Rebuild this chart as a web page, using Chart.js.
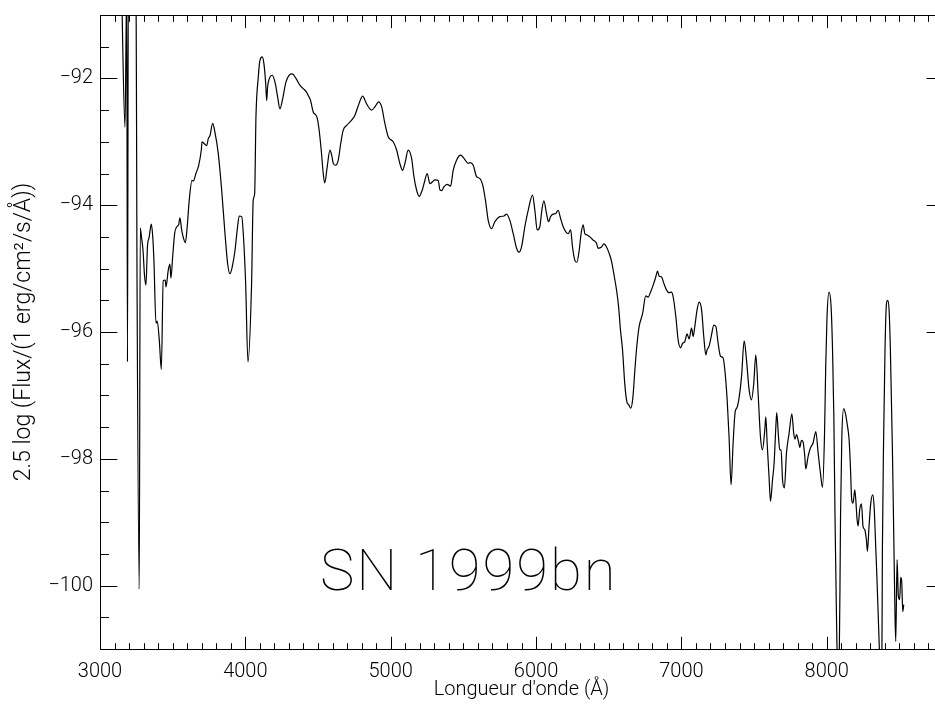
<!DOCTYPE html>
<html>
<head>
<meta charset="utf-8">
<script src="https://cdn.jsdelivr.net/npm/chart.js@4.4.1/dist/chart.umd.min.js"></script>
<style>
html,body{margin:0;padding:0;background:#fff;overflow:hidden;width:935px;height:704px}
#wrap{position:relative;width:950px;height:704px}
canvas{display:block}
</style>
</head>
<body>
<div id="wrap"><canvas id="c" width="950" height="704"></canvas></div>
<script>
// ---- data ----
const wavelength = [
3148,3172,3184,3189,3195,3248,3254,3270,3277,3285,
3296,3306,3316,3327,3337,3353,3362,3371,3385,3394,
3408,3422,3435,3449,3454,3470,3481,3488,3500,3514,
3528,3541,3550,3562,3573,3587,3600,3614,3633,3642,
3660,3679,3697,3702,3722,3734,3745,3757,3775,3791,
3814,3837,3860,3878,3894,3910,3929,3944,3958,3975,
3986,4002,4018,4043,4054,4064,4073,4089,4100,4116,
4128,4140,4147,4153,4169,4185,4204,4222,4238,4257,
4279,4302,4323,4348,4376,4398,4422,4433,4449,4467,
4486,4495,4508,4522,4536,4546,4563,4582,4594,4605,
4621,4639,4656,4673,4697,4731,4754,4777,4807,4834,
4869,4891,4917,4938,4960,4983,5017,5041,5063,5082,
5100,5120,5144,5160,5178,5196,5220,5235,5251,5270,
5288,5304,5327,5339,5352,5366,5389,5412,5430,5453,
5481,5504,5533,5545,5568,5591,5614,5636,5655,5671,
5694,5717,5751,5779,5797,5820,5843,5866,5882,5900,
5923,5946,5976,5992,6008,6026,6040,6054,6072,6086,
6100,6118,6136,6152,6169,6187,6205,6221,6238,6251,
6267,6281,6297,6310,6324,6336,6352,6370,6393,6416,
6427,6451,6467,6485,6503,6520,6535,6554,6568,6581,
6595,6611,6625,6638,6652,6666,6680,6691,6709,6733,
6755,6771,6788,6806,6824,6836,6847,6863,6879,6898,
6916,6932,6943,6962,6978,6994,7008,7024,7039,7053,
7070,7081,7092,7108,7122,7139,7154,7168,7177,7191,
7207,7223,7237,7253,7269,7287,7299,7315,7328,7342,
7356,7370,7383,7397,7414,7432,7448,7466,7482,7498,
7512,7528,7544,7558,7574,7581,7590,7603,7613,7627,
7638,7650,7656,7668,7677,7686,7696,7709,7723,7741,
7760,7773,7782,7792,7806,7815,7826,7837,7849,7856,
7872,7888,7906,7925,7941,7957,7971,7985,7993,8002,
8016,8030,8040,8049,8057,8067,8076,8085,8095,8104,
8117,8131,8140,8154,8163,8172,8181,8193,8200,8209,
8216,8227,8239,8250,8262,8273,8280,8291,8303,8317,
8326,8337,8346,8360,8370,8379,8383,8392,8401,8411,
8420,8429,8438,8452,8461,8470,8475,8484,8493,8502,
8509,8516,8523,8530
];
const flux = [
-90.5,-92.77,-90.5,-96.47,-90.5,-90.5,-94.74,-100.06,-94.36,-94.50,
-94.71,-95.10,-95.26,-94.63,-94.52,-94.30,-94.47,-94.87,-95.86,-95.83,
-96.13,-96.59,-95.19,-95.18,-95.29,-95.02,-94.93,-95.15,-94.81,-94.44,
-94.34,-94.31,-94.20,-94.39,-94.51,-94.59,-94.34,-93.92,-93.61,-93.62,
-93.50,-93.37,-93.13,-93.00,-93.04,-93.06,-92.95,-92.90,-92.71,-92.85,
-93.19,-93.76,-94.45,-94.92,-95.08,-94.97,-94.71,-94.39,-94.17,-94.18,
-94.45,-95.23,-96.47,-95.23,-93.92,-93.82,-92.61,-91.98,-91.72,-91.66,
-91.77,-92.08,-92.35,-92.14,-91.98,-91.95,-92.06,-92.29,-92.48,-92.32,
-92.06,-91.95,-91.93,-92.00,-92.11,-92.16,-92.22,-92.27,-92.35,-92.53,
-92.58,-92.63,-92.82,-93.13,-93.50,-93.65,-93.40,-93.13,-93.21,-93.34,
-93.37,-93.29,-93.03,-92.82,-92.74,-92.66,-92.58,-92.43,-92.28,-92.40,
-92.50,-92.45,-92.37,-92.45,-92.71,-92.92,-93.00,-93.13,-93.34,-93.45,
-93.32,-93.13,-93.26,-93.55,-93.76,-93.86,-93.74,-93.61,-93.50,-93.66,
-93.63,-93.60,-93.61,-93.76,-93.77,-93.71,-93.67,-93.70,-93.45,-93.29,
-93.21,-93.26,-93.34,-93.33,-93.37,-93.55,-93.58,-93.71,-93.97,-94.24,
-94.37,-94.26,-94.18,-94.17,-94.14,-94.24,-94.45,-94.68,-94.74,-94.66,
-94.34,-94.08,-93.84,-94.08,-94.39,-94.34,-94.08,-93.93,-94.13,-94.26,
-94.18,-94.14,-94.13,-94.08,-94.21,-94.34,-94.42,-94.45,-94.39,-94.66,
-94.87,-94.90,-94.71,-94.45,-94.31,-94.45,-94.47,-94.50,-94.55,-94.60,
-94.68,-94.66,-94.61,-94.66,-94.76,-94.89,-95.08,-95.34,-95.60,-95.97,
-96.28,-96.83,-97.10,-97.15,-97.20,-97.04,-96.60,-96.28,-95.92,-95.71,
-95.43,-95.45,-95.37,-95.26,-95.13,-95.04,-95.12,-95.13,-95.23,-95.34,
-95.38,-95.37,-95.44,-95.76,-96.13,-96.25,-96.18,-96.15,-96.03,-96.11,
-95.94,-96.07,-95.92,-95.65,-95.53,-95.65,-96.07,-96.36,-96.28,-96.22,
-96.05,-95.89,-95.91,-96.18,-96.38,-96.41,-96.60,-97.07,-97.65,-98.41,
-97.75,-97.26,-97.19,-97.04,-96.70,-96.14,-96.44,-96.91,-97.07,-96.81,
-96.36,-96.97,-97.65,-97.86,-97.54,-97.34,-97.75,-98.28,-98.67,-98.33,
-98.07,-97.49,-97.27,-97.65,-97.86,-97.86,-98.33,-98.46,-97.91,-97.60,
-97.29,-97.60,-97.69,-97.62,-97.73,-97.82,-97.71,-97.73,-97.96,-98.16,
-97.96,-97.83,-97.75,-97.57,-97.91,-98.23,-98.45,-97.60,-96.55,-95.76,
-95.37,-95.60,-96.28,-97.33,-98.91,-100.48,-101.4,-101.4,-98.91,-97.65,
-97.21,-97.31,-97.44,-97.70,-98.12,-98.65,-98.70,-98.49,-98.65,-98.96,
-99.06,-98.80,-98.71,-99.07,-99.12,-99.28,-99.46,-99.07,-98.70,-98.57,
-98.75,-99.38,-99.91,-100.85,-101.4,-101.4,-99.43,-97.60,-96.28,-95.55,
-95.50,-95.65,-96.28,-97.86,-99.17,-100.48,-100.88,-99.59,-100.17,-100.22,
-99.87,-99.94,-100.41,-100.30
];
const xTickValues = [3000, 4000, 5000, 6000, 7000, 8000];
const yTickValues = [-100, -98, -96, -94, -92];
const xRange = [3000, 8800];
const yRange = [-101, -91];
const xMinorStep = 100;
const yMinorStep = 0.5;
const xMajorStep = 1000;
const yMajorStep = 2;
const objectName = 'SN 1999bn';
const objectNameAt = { x: 4513, y: -100.07 };
const xTitle = "Longueur d'onde (Å)";
const yTitle = '2.5 log (Flux/(1 erg/cm²/s/Å))';

// ---- styles ----
const FONT = "Roboto, 'Liberation Sans', Arial, sans-serif";
const INK = '#000';

const frameTicks = {
  id: 'frameTicks',
  afterDatasetsDraw(chart) {
    const { ctx, chartArea: a, scales: { x, y } } = chart;
    ctx.save();
    ctx.strokeStyle = INK;
    ctx.lineWidth = 1;
    ctx.beginPath();
    const L = Math.round(a.left) + 0.5, R = Math.round(a.right) + 0.5;
    const T = Math.round(a.top) + 0.5, B = Math.round(a.bottom) + 0.5;
    ctx.moveTo(L, T); ctx.lineTo(R, T); ctx.lineTo(R, B); ctx.lineTo(L, B); ctx.closePath();
    const h = a.bottom - a.top, w = a.right - a.left;
    const xMaj = 0.02 * h, xMin = 0.01 * h, yMaj = 0.02 * w, yMin = 0.01 * w;
    const nX = Math.round((xRange[1] - xRange[0]) / xMinorStep);
    for (let i = 0; i <= nX; i++) {
      const v = xRange[0] + i * xMinorStep;
      const px = Math.round(x.getPixelForValue(v)) + 0.5;
      const len = (Math.abs(v % xMajorStep) < 1e-6) ? xMaj : xMin;
      ctx.moveTo(px, B); ctx.lineTo(px, B - len);
      ctx.moveTo(px, T); ctx.lineTo(px, T + len);
    }
    const nY = Math.round((yRange[1] - yRange[0]) / yMinorStep);
    for (let i = 0; i <= nY; i++) {
      const v = yRange[0] + i * yMinorStep;
      const py = Math.round(y.getPixelForValue(v)) + 0.5;
      const len = (Math.abs(v % yMajorStep) < 1e-6) ? yMaj : yMin;
      ctx.moveTo(L, py); ctx.lineTo(L + len, py);
      ctx.moveTo(R, py); ctx.lineTo(R - len, py);
    }
    ctx.stroke();
    // object name annotation
    ctx.fillStyle = INK;
    ctx.font = "100 58px " + FONT;
    if ('letterSpacing' in ctx) ctx.letterSpacing = '2px';
    ctx.textAlign = 'left';
    ctx.textBaseline = 'alphabetic';
    ctx.fillText(objectName, x.getPixelForValue(objectNameAt.x), y.getPixelForValue(objectNameAt.y));
    ctx.restore();
  }
};

const points = wavelength.map((w, i) => ({ x: w, y: flux[i] }));

new Chart(document.getElementById('c'), {
  type: 'line',
  data: {
    datasets: [{
      data: points,
      borderColor: INK,
      borderWidth: 1.2,
      pointRadius: 0,
      fill: false,
      cubicInterpolationMode: 'monotone'
    }]
  },
  options: {
    responsive: false,
    animation: false,
    events: [],
    layout: { padding: { left: 0, top: 15, right: 7, bottom: 0 } },
    plugins: { legend: { display: false }, tooltip: { enabled: false } },
    scales: {
      x: {
        type: 'linear',
        min: xRange[0], max: xRange[1],
        afterBuildTicks: s => { s.ticks = xTickValues.map(v => ({ value: v })); },
        afterFit: s => { s.height = 55; s.paddingLeft = 0; s.paddingRight = 0; },
        grid: { display: false, drawTicks: false },
        border: { display: false },
        ticks: {
          color: INK, padding: 11, maxRotation: 0, autoSkip: false,
          font: { family: FONT, size: 20, weight: 300 },
          callback: v => String(v)
        },
        title: {
          display: true, text: xTitle, color: INK,
          font: { family: FONT, size: 20, weight: 300 },
          padding: { top: 0, bottom: 2 }
        }
      },
      y: {
        type: 'linear',
        min: yRange[0], max: yRange[1],
        afterBuildTicks: s => { s.ticks = yTickValues.map(v => ({ value: v })); },
        afterFit: s => { s.width = 100; s.paddingTop = 0; s.paddingBottom = 0; },
        grid: { display: false, drawTicks: false },
        border: { display: false },
        ticks: {
          color: INK, padding: 7,
          font: { family: FONT, size: 20, weight: 300 },
          callback: v => String(v).replace('-', '\u2212')
        },
        title: {
          display: true, text: yTitle, color: INK,
          font: { family: FONT, size: 23, weight: 300 },
          padding: { top: 10, bottom: 0 }
        }
      }
    }
  },
  plugins: [frameTicks]
});
</script>
</body>
</html>
